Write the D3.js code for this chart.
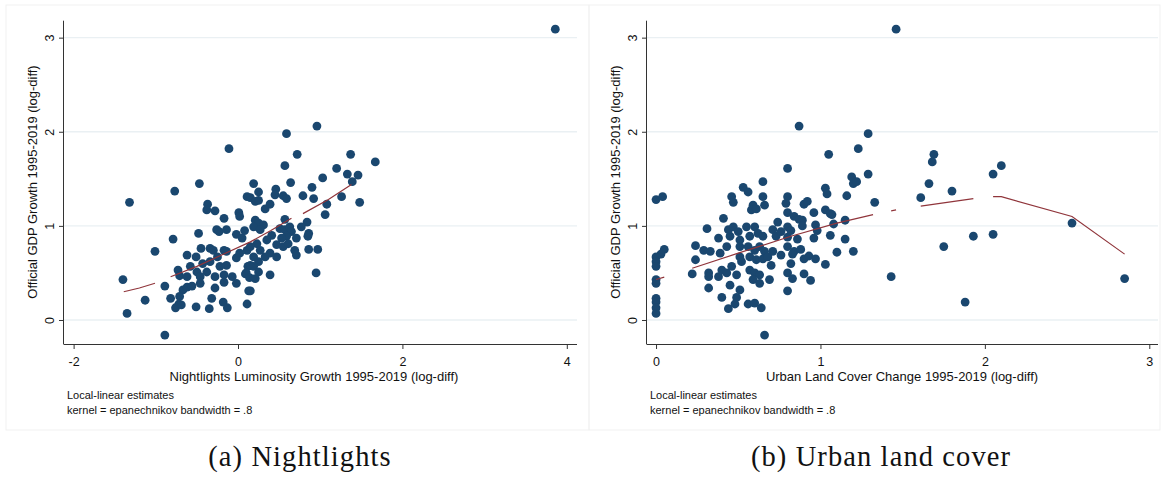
<!DOCTYPE html>
<html>
<head>
<meta charset="utf-8">
<script src="https://cdn.jsdelivr.net/npm/d3@7"></script>
<style>
  body { margin: 0; background: #fff; }
  svg { display: block; }
  .ax text { font-family: "Liberation Sans", Arial, sans-serif; }
</style>
</head>
<body>
<div id="chart"></div>
<script>
// y ticks shared by both panels
const yTicks = [0, 1, 2, 3];

// (a) nightlights: x = luminosity growth, y = GDP growth
const nlXTicks = [-2, 0, 2, 4];
const nlX = [-0.11,-0.47,-0.77,-1.32,-0.37,-0.38,-0.28,0.01,0.02,-0.17,0.11,-0.48,-0.26,-0.23,-0.14,-0.02,0.05,0.08,-0.79,-1.01,
  -0.45,-0.34,-0.30,-0.17,-0.14,-0.62,-0.51,-0.43,-0.34,-0.25,-0.14,-0.22,-0.02,0.02,0.11,0.12,-0.73,-0.71,-0.62,-0.58,
  -0.50,-0.46,-0.38,-0.28,-0.17,-0.07,0.09,-1.40,-0.89,-0.67,-0.62,-0.56,-0.46,-0.28,-0.17,-0.02,0.13,-1.13,-0.82,-0.71,
  -0.72,-0.76,-0.69,-0.51,-0.35,-0.32,-0.18,-0.13,0.11,-1.35,-0.89,0.96,0.59,0.72,1.37,1.67,0.57,1.20,1.33,1.46,
  1.03,1.39,0.64,0.19,0.90,0.25,0.46,0.45,0.15,0.21,0.25,0.55,0.59,0.79,0.92,1.26,1.08,1.48,0.39,0.33,
  1.06,0.57,0.84,0.77,0.86,0.85,0.21,0.25,0.31,0.19,0.27,0.51,0.57,0.63,0.65,0.59,0.53,0.47,0.55,0.71,
  0.61,0.69,0.71,0.86,0.97,0.41,0.35,0.23,0.15,0.27,0.33,0.39,0.19,0.25,0.47,0.15,0.19,0.10,0.25,0.14,
  0.21,0.39,0.95,0.15,3.86];
const nlY = [1.82,1.45,1.37,1.25,1.23,1.17,1.16,1.14,1.10,1.08,1.31,0.92,0.96,0.94,0.96,0.91,0.87,0.95,0.86,0.73,
  0.76,0.76,0.74,0.74,0.73,0.69,0.67,0.60,0.62,0.67,0.58,0.57,0.66,0.71,0.74,0.57,0.53,0.47,0.46,0.57,
  0.51,0.46,0.51,0.46,0.48,0.46,0.49,0.43,0.36,0.32,0.35,0.36,0.39,0.34,0.40,0.39,0.31,0.21,0.23,0.25,
  0.17,0.13,0.16,0.14,0.12,0.23,0.19,0.13,0.17,0.07,-0.16,2.06,1.98,1.76,1.76,1.68,1.64,1.61,1.55,1.54,
  1.51,1.47,1.46,1.45,1.41,1.36,1.39,1.33,1.30,1.26,1.27,1.32,1.29,1.32,1.29,1.31,1.23,1.25,1.23,1.18,
  1.12,1.07,1.04,0.99,0.92,0.89,1.06,1.03,1.01,0.99,0.96,0.97,0.96,0.99,0.94,0.89,0.87,0.80,0.78,0.87,
  0.81,0.74,0.69,0.75,0.75,0.90,0.85,0.81,0.78,0.74,0.67,0.71,0.67,0.62,0.67,0.58,0.57,0.50,0.51,0.45,
  0.44,0.48,0.50,0.31,3.09];
// local-linear fit, null = gap in the drawn line
const nlFitX = [-1.39,-1.2,-1.01,null,-0.82,-0.5,-0.2,0.15,0.4,0.65,null,0.79,1.1,1.38];
const nlFitY = [0.30,0.34,0.39,null,0.46,0.57,0.69,0.83,0.95,1.08,null,1.13,1.28,1.44];

// (b) urban land cover
const ulXTicks = [0, 1, 2, 3];
const ulX = [0.00,0.04,0.05,0.03,0.00,0.00,0.00,0.00,0.00,0.00,0.00,0.00,0.00,
  0.80,0.65,0.53,0.56,0.46,0.47,0.65,0.66,0.59,0.58,0.61,0.80,0.79,0.80,0.41,0.31,0.38,0.24,0.24,0.22,0.29,0.33,
  0.32,0.32,0.32,0.40,0.44,0.48,0.49,0.51,0.45,0.38,0.40,0.43,0.49,0.46,0.39,0.43,0.45,0.44,0.47,0.50,
  0.51,0.51,0.51,0.52,0.55,0.60,0.57,0.62,0.65,0.56,0.60,0.63,0.66,0.57,0.61,0.65,0.68,0.71,0.57,0.60,
  0.63,0.59,0.63,0.70,0.69,0.56,0.60,0.64,0.66,0.71,0.74,0.73,0.76,0.76,0.80,0.80,0.80,0.80,0.80,
  0.87,1.29,1.23,1.05,1.19,1.20,1.22,1.29,1.03,1.04,1.16,1.33,0.90,0.92,0.84,0.87,0.89,0.89,0.96,1.03,
  1.06,1.07,1.08,1.15,0.82,0.97,0.98,0.96,0.86,1.06,1.15,0.84,0.88,0.83,0.90,0.93,0.97,1.10,1.20,0.82,
  1.03,0.90,0.83,0.94,1.43,1.61,1.66,
  1.46,1.69,1.68,1.80,1.75,1.88,1.93,2.05,2.10,2.05,2.53,2.85];
const ulY = [1.28,1.31,0.75,0.70,0.67,0.62,0.57,0.43,0.39,0.23,0.19,0.13,0.07,
  1.61,1.47,1.41,1.36,1.31,1.25,1.31,1.22,1.22,1.17,1.18,1.31,1.24,1.14,1.08,0.97,0.87,0.79,0.64,0.49,0.74,0.73,
  0.50,0.46,0.34,0.24,0.12,0.17,0.24,0.32,0.37,0.46,0.53,0.50,0.48,0.57,0.71,0.78,0.89,0.96,0.99,0.94,
  0.85,0.78,0.67,0.62,0.99,0.99,0.89,0.92,0.89,0.78,0.74,0.78,0.73,0.67,0.64,0.65,0.67,0.73,0.53,0.50,
  0.48,0.43,0.39,0.58,0.43,0.17,0.18,0.13,-0.16,0.96,1.04,0.89,0.94,0.69,0.50,0.31,0.78,0.88,0.99,
  2.06,1.98,1.82,1.76,1.52,1.45,1.47,1.55,1.40,1.34,1.32,1.25,1.23,1.26,1.10,1.07,1.06,1.00,1.14,1.17,
  1.13,1.12,1.02,1.06,0.95,1.01,0.95,0.87,0.86,0.90,0.86,0.73,0.75,0.70,0.65,0.68,0.65,0.72,0.73,0.60,
  0.59,0.49,0.44,0.42,0.46,1.30,1.45,
  3.09,1.76,1.68,1.37,0.78,0.19,0.89,1.55,1.64,0.91,1.03,0.44];
const ulFitX = [0,0.05,null,0.22,0.5,0.82,1.1,1.32,null,1.43,1.46,null,1.61,1.93,null,2.05,2.10,2.53,2.85];
const ulFitY = [0.43,0.455,null,0.55,0.71,0.89,1.03,1.12,null,1.16,1.17,null,1.21,1.29,null,1.31,1.31,1.10,0.70];

const yTitle = "Official GDP Growth 1995-2019 (log-diff)";
const noteLines = ["Local-linear estimates", "kernel = epanechnikov bandwidth = .8"];

const W = 1163, H = 482;
const navy = "#1a476f", maroon = "#90353b", gridCol = "#eaf0f3", axisCol = "#333";

const svg = d3.select("#chart").append("svg")
  .attr("width", W).attr("height", H);

// plain hyphen for negatives, like the original
const fmt = d => String(d);

function drawPanel(p) {
  const g = svg.append("g");

  // faint graph-region outline
  g.append("rect")
    .attr("x", p.box[0]).attr("y", p.box[1])
    .attr("width", p.box[2] - p.box[0]).attr("height", p.box[3] - p.box[1])
    .attr("fill", "none").attr("stroke", "#f1f1f1");

  const x = d3.scaleLinear().domain(p.xDomain).range([p.left, p.right]);
  const y = d3.scaleLinear().domain([-0.255, 3.18]).range([344, 20.7]);

  // gridlines
  g.selectAll(".grid").data(yTicks).enter().append("line")
    .attr("x1", p.left).attr("x2", p.right)
    .attr("y1", d => y(d)).attr("y2", d => y(d))
    .attr("stroke", gridCol).attr("stroke-width", 1.4);

  // points
  g.selectAll("circle").data(d3.zip(p.xs, p.ys)).enter().append("circle")
    .attr("cx", d => x(d[0])).attr("cy", d => y(d[1]))
    .attr("r", 4.4).attr("fill", navy);

  // fit line
  const line = d3.line()
    .defined(d => d[0] !== null)
    .x(d => x(d[0])).y(d => y(d[1]));
  g.append("path").datum(d3.zip(p.fitX, p.fitY))
    .attr("d", line).attr("fill", "none")
    .attr("stroke", maroon).attr("stroke-width", 1.2);

  // y axis
  const ya = g.append("g").attr("class", "ax")
    .attr("transform", `translate(${p.left},0)`)
    .call(d3.axisLeft(y).tickValues(yTicks).tickSize(5).tickFormat(fmt));
  ya.select(".domain").attr("stroke", axisCol).attr("d", `M-0.5,${y.range()[0] + 0.5}V${y.range()[1]}`);
  ya.selectAll(".tick line").attr("stroke", axisCol);
  ya.selectAll(".tick text")
    .attr("transform", "rotate(-90)")
    .attr("x", 0).attr("y", -10).attr("dy", 0)
    .attr("text-anchor", "middle")
    .attr("font-size", 12.5).attr("fill", "#111");

  // x axis
  const xa = g.append("g").attr("class", "ax")
    .attr("transform", "translate(0,344)")
    .call(d3.axisBottom(x).tickValues(p.xTicks).tickSize(5).tickPadding(8).tickFormat(fmt));
  xa.select(".domain").attr("stroke", axisCol).attr("d", `M${p.left},0.5H${p.right}`);
  xa.selectAll(".tick line").attr("stroke", axisCol);
  xa.selectAll(".tick text").attr("font-size", 12.5).attr("fill", "#111");

  const txt = g.append("g").attr("font-family", '"Liberation Sans", Arial, sans-serif').attr("fill", "#111");
  txt.append("text")
    .attr("transform", `translate(${p.left - 27},182) rotate(-90)`)
    .attr("text-anchor", "middle").attr("font-size", 13)
    .text(yTitle);
  txt.append("text")
    .attr("x", p.xTitleX).attr("y", 381)
    .attr("text-anchor", "middle").attr("font-size", 13)
    .text(p.xTitle);
  txt.selectAll(".note").data(noteLines).enter().append("text")
    .attr("x", p.left + 3).attr("y", (d, i) => 399 + i * 15)
    .attr("font-size", 11).text(d => d);

  svg.append("text")
    .attr("x", p.capX).attr("y", 466)
    .attr("text-anchor", "middle")
    .attr("font-family", '"Liberation Serif", "Times New Roman", serif')
    .attr("font-size", 28.5).attr("letter-spacing", 1.1).attr("fill", "#111")
    .text(p.caption);
}

drawPanel({
  box: [6, 5, 589, 430], left: 64, right: 577, xDomain: [-2.117, 4.124], xTicks: nlXTicks,
  xs: nlX, ys: nlY, fitX: nlFitX, fitY: nlFitY,
  xTitle: "Nightlights Luminosity Growth 1995-2019 (log-diff)", xTitleX: 314,
  caption: "(a) Nightlights", capX: 300
});
drawPanel({
  box: [589, 5, 1160, 430], left: 647, right: 1158, xDomain: [-0.055, 3.053], xTicks: ulXTicks,
  xs: ulX, ys: ulY, fitX: ulFitX, fitY: ulFitY,
  xTitle: "Urban Land Cover Change 1995-2019 (log-diff)", xTitleX: 902,
  caption: "(b) Urban land cover", capX: 881
});
</script>
</body>
</html>
